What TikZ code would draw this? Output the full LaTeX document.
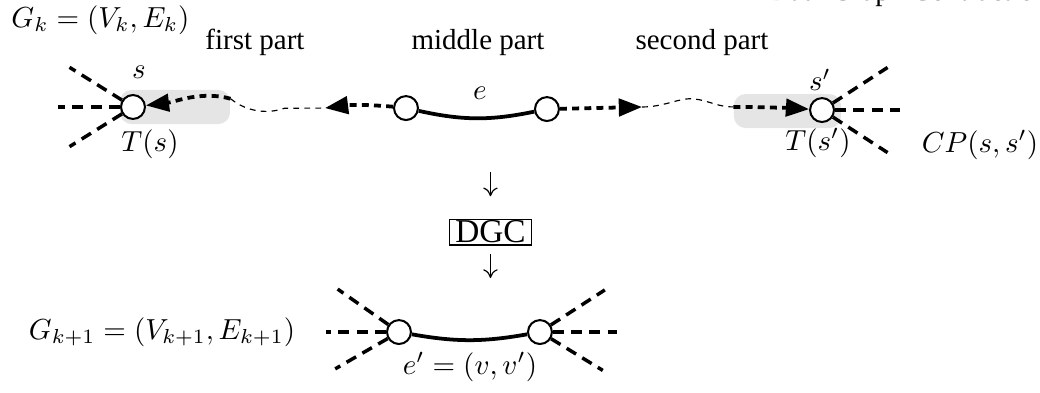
\documentclass[tikz,border=0pt]{standalone}
\usepackage{amsmath,amssymb}
\usepackage{fontspec}
\setmainfont{Liberation Serif}
\usetikzlibrary{arrows.meta,positioning,shapes.geometric}

\begin{document}
\begin{tikzpicture}[
    vertex/.style={circle, draw=black, fill=white, line width=0.7pt, minimum size=0.29cm, inner sep=0pt},
    region/.style={rectangle, fill=gray!20, rounded corners=4pt, inner sep=0pt},
    walk/.style={-{Triangle[length=8pt,width=6pt]}, line width=1.3pt, dash pattern=on 2.4pt off 1.8pt},
    trail/.style={line width=0.4pt, dash pattern=on 2pt off 1.8pt},
    spoke/.style={line width=1.2pt, dash pattern=on 3.8pt off 2.5pt},
    link/.style={line width=1.3pt},
    flow/.style={-{To[length=3pt,width=5pt]}, line width=0.4pt},
    op/.style={rectangle, draw=black, line width=0.4pt, inner xsep=2pt, inner ysep=0.6pt, font=\fontsize{11.5}{13}\selectfont},
    note/.style={inner sep=1pt}
]
\useasboundingbox (0,0) rectangle (12.606,4.752);

% Title line running off the top
\node[note, anchor=base west] (title) at (9.27,4.74) {Dual Graph Contraction};

% Shaded end regions
\node[region, minimum width=1.333cm, minimum height=0.413cm] (Ts) at (2.121,3.455) {};
\node[region, minimum width=1.297cm, minimum height=0.412cm] (Tsp) at (9.545,3.406) {};

% Vertices of G_k
\node[vertex] (s) at (1.612,3.455) {};
\node[vertex] (m1) at (4.921,3.442) {};
\node[vertex] (m2) at (6.630,3.430) {};
\node[vertex] (sp) at (9.964,3.418) {};
\coordinate (ltip) at (3.939,3.442);
\coordinate (rtip) at (7.782,3.455);

% Spokes
\foreach \a in {148,180,212} \draw[spoke] (s.\a) -- ++(\a:0.75);
\foreach \a in {33,0,-33} \draw[spoke] (sp.\a) -- ++(\a:0.79);

% Middle edge and the two walks
\draw[link] (m1) to[bend right=12] (m2);
\draw[walk] (m1) to[bend right=6] (ltip);
\draw[walk] (m2) -- (rtip);
\draw[trail] ([yshift=1mm]Ts.east) .. controls (3.0,3.39) and (3.25,3.37) .. (3.45,3.44) -- (ltip);
\draw[trail] (rtip) .. controls (8.061,3.455) and (8.242,3.576) .. (8.424,3.552)
    .. controls (8.606,3.527) and (8.703,3.455) .. ([yshift=0.05cm]Tsp.west);
\draw[walk] ([yshift=1mm]Ts.east) .. controls +(-0.35,0.1) and +(0.5,0.06) .. (s);
\draw[walk] ([yshift=0.05cm]Tsp.west) .. controls +(0.3,0) and +(-0.3,0.02) .. (sp);

% Labels
\node[note, anchor=west] (gk) at (0.097,4.509) {$G_k = (V_k, E_k)$};
\node[note] (fp) at (3.091,4.242) {first part};
\node[note] (mp) at (5.794,4.242) {middle part};
\node[note] (sdp) at (8.509,4.242) {second part};
\node[note] (sl) at (1.685,3.879) {$s$};
\node[note] (Tsl) at (1.818,3.006) {$T(s)$};
\node[note] (el) at (5.818,3.624) {$e$};
\node[note] (spl) at (9.939,3.782) {$s'$};
\node[note] (Tspl) at (9.915,3.018) {$T(s')$};
\node[note] (cp) at (11.879,2.994) {$CP(s,s')$};

% Contraction step
\node[op] (dgc) at (5.945,1.939) {DGC};
\coordinate (in) at (5.945,2.667);
\coordinate (out) at (5.945,1.382);
\draw[flow, shorten >=0.27cm] (in) -- (dgc);
\draw[flow, shorten <=0.1cm] (dgc) -- (out);

% Contracted graph G_{k+1}
\node[vertex] (v) at (4.836,0.727) {};
\node[vertex] (vp) at (6.545,0.727) {};
\foreach \a/\l in {145/0.75,180/0.73,210/0.735} \draw[spoke] (v.\a) -- ++(\a:\l);
\foreach \a/\l in {33/0.78,0/0.78,-31.5/0.735} \draw[spoke] (vp.\a) -- ++(\a:\l);
\draw[link] (v) to[bend right=10] (vp);
\node[note] (gk1) at (1.964,0.727) {$G_{k+1} = (V_{k+1}, E_{k+1})$};
\node[note] (epl) at (5.697,0.303) {$e' = (v,v')$};

\end{tikzpicture}
\end{document}
